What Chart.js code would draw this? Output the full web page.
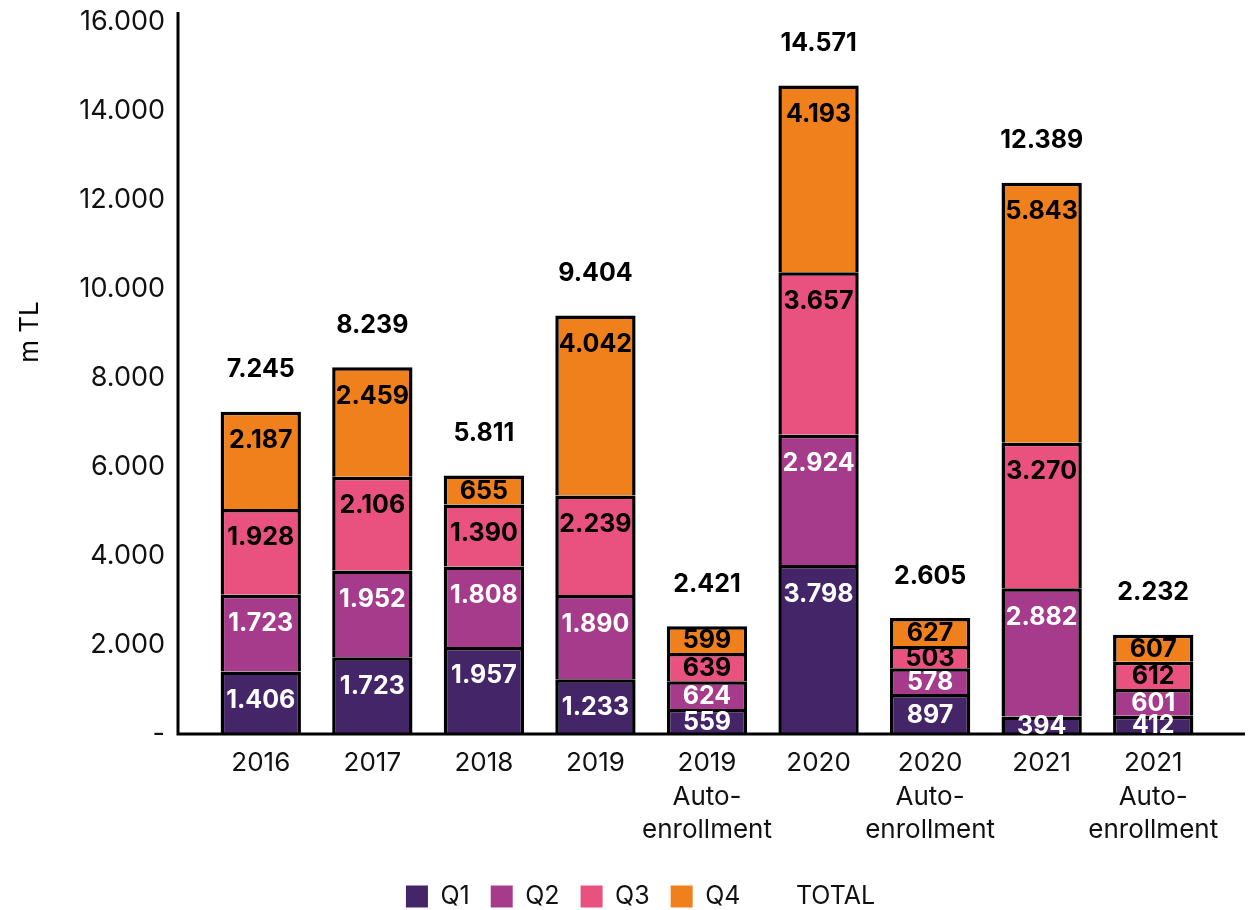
<!DOCTYPE html>
<html>
<head>
<meta charset="utf-8">
<script src="https://cdn.jsdelivr.net/npm/chart.js@4.4.1/dist/chart.umd.min.js"></script>
<style>
  html, body { margin: 0; padding: 0; background: #fff; }
  #wrap { width: 1258px; height: 910px; }
</style>
</head>
<body>
<div id="wrap"><canvas id="chart"></canvas></div>
<script>
const categories = [
  '2016', '2017', '2018', '2019', ['2019', 'Auto-', 'enrollment'],
  '2020', ['2020', 'Auto-', 'enrollment'], '2021', ['2021', 'Auto-', 'enrollment']
];
const q1 = [1406, 1723, 1957, 1233, 559, 3798, 897, 394, 412];
const q2 = [1723, 1952, 1808, 1890, 624, 2924, 578, 2882, 601];
const q3 = [1928, 2106, 1390, 2239, 639, 3657, 503, 3270, 612];
const q4 = [2187, 2459, 655, 4042, 599, 4193, 627, 5843, 607];
const totals = [7245, 8239, 5811, 9404, 2421, 14571, 2605, 12389, 2232];
const yTicks = [0, 2000, 4000, 6000, 8000, 10000, 12000, 14000, 16000];

const FONT = 'Inter, "Noto Sans", sans-serif';
const fmt = v => v === 0 ? '-' : String(v).replace(/\B(?=(\d{3})+(?!\d))/g, '.');

// labels, axis lines and the y title
const drawExtras = {
  id: 'drawExtras',
  afterDatasetsDraw(chart) {
    const ctx = chart.ctx;
    const area = chart.chartArea;
    ctx.save();
    ctx.strokeStyle = '#000';
    ctx.lineWidth = 3;
    ctx.beginPath();
    ctx.moveTo(area.left - 27, area.top - 10);
    ctx.lineTo(area.left - 27, area.bottom);
    ctx.lineTo(area.right + 36, area.bottom);
    ctx.stroke();

    ctx.textAlign = 'center';
    ctx.textBaseline = 'middle';
    ctx.font = 'bold 25px ' + FONT;
    for (let d = 0; d < 4; d++) {
      const meta = chart.getDatasetMeta(d);
      ctx.fillStyle = d < 2 ? '#fff' : '#000';
      meta.data.forEach((el, i) => {
        const h = el.base - el.y;
        const y = el.y + Math.min(h / 2, 28);
        ctx.fillText(fmt(chart.data.datasets[d].data[i]), el.x, y + 1);
      });
    }
    ctx.fillStyle = '#000';
    chart.getDatasetMeta(4).data.forEach((pt, i) => {
      ctx.fillText(fmt(totals[i]), pt.x, pt.y - 42);
    });

    ctx.font = '26px ' + FONT;
    ctx.translate(30, 332);
    ctx.rotate(-Math.PI / 2);
    ctx.fillText('m TL', 0, 0);
    ctx.restore();
  }
};

const barBase = { borderColor: '#000', borderWidth: 3.5, stack: 'q', barPercentage: 0.72, categoryPercentage: 1 };

new Chart(document.getElementById('chart').getContext('2d'), {
  type: 'bar',
  data: {
    labels: categories,
    datasets: [
      { ...barBase, label: 'Q1', data: q1, backgroundColor: '#432568' },
      { ...barBase, label: 'Q2', data: q2, backgroundColor: '#a63a8b' },
      { ...barBase, label: 'Q3', data: q3, backgroundColor: '#e9517e' },
      { ...barBase, label: 'Q4', data: q4, backgroundColor: '#ef801c' },
      {
        type: 'line', label: 'TOTAL', data: totals, stack: 'total',
        showLine: false, pointRadius: 0, backgroundColor: 'transparent', borderColor: 'transparent'
      }
    ]
  },
  options: {
    responsive: true,
    maintainAspectRatio: false,
    animation: false,
    layout: { padding: { top: 22, right: 49, left: 72, bottom: -9 } },
    plugins: {
      tooltip: { enabled: false },
      legend: {
        position: 'bottom',
        labels: {
          color: '#111',
          font: { family: FONT, size: 25 },
          boxWidth: 22,
          boxHeight: 22,
          padding: 21,
          generateLabels(chart) {
            const items = Chart.defaults.plugins.legend.labels.generateLabels(chart);
            items.forEach(it => { it.lineWidth = 0; });
            return items;
          }
        }
      }
    },
    scales: {
      x: {
        stacked: true,
        grid: { display: false, drawTicks: false },
        border: { display: false },
        ticks: { color: '#111', font: { family: FONT, size: 26, lineHeight: 1.3 }, padding: 12, maxRotation: 0, autoSkip: false },
        afterFit(scale) { scale.height = 129; }
      },
      y: {
        stacked: true,
        min: 0,
        max: 16000,
        grid: { display: false, drawTicks: false },
        border: { display: false },
        afterBuildTicks(scale) { scale.ticks = yTicks.map(v => ({ value: v })); },
        ticks: { color: '#111', font: { family: FONT, size: 27 }, padding: 40, callback: v => fmt(v) },
        afterFit(scale) { scale.width = 133; scale.paddingTop = 0; scale.paddingBottom = 0; }
      }
    }
  },
  plugins: [drawExtras]
});
</script>
</body>
</html>
